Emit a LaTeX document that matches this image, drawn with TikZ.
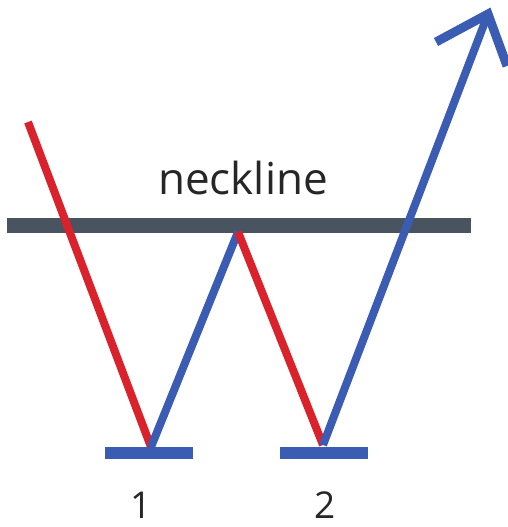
\documentclass[tikz,border=0pt]{standalone}
\usepackage{fontspec}
\setmainfont{Open Sans}
\definecolor{wred}{HTML}{D9222B}
\definecolor{wblue}{HTML}{3B5CB3}
\definecolor{wgray}{HTML}{4A5460}
\begin{document}
\begin{tikzpicture}[x=1pt,y=1pt,
  redseg/.style={wred,line width=8pt},
  blueseg/.style={wblue,line width=8pt},
  bar/.style={wblue,line width=12pt},
  neck/.style={wgray,line width=15pt},
  lbl/.style={font=\fontsize{37}{39}\selectfont,text=black!85,inner sep=0pt},
  nlbl/.style={font=\fontsize{44}{46}\selectfont,text=black!85,inner sep=0pt}]
\useasboundingbox (0,0) rectangle (507,527);
\coordinate (s) at (28,405);
\coordinate (b1) at (151,80);
\coordinate (t) at (238,295);
\coordinate (b2) at (323,82);
\coordinate (tip) at (488,513);
\coordinate (wl) at (436,485);
\coordinate (wr) at (507,461);
\draw[neck] (7,301) -- (471,301);
\draw[redseg] (s) -- (b1);
\draw[blueseg] (b1) -- (t);
\draw[redseg] (t) -- (b2);
\draw[blueseg] (b2) -- (tip);
\draw[blueseg,line width=9pt,line join=miter] (wl) -- (tip) -- (wr);
\draw[bar] (105,74) -- (193,74);
\draw[bar] (280,74) -- (368,74);
\node[nlbl,anchor=base] (nl) at (243,332) {neckline};
\node[lbl,anchor=base] (n1) at (141,9) {1};
\node[lbl,anchor=base] (n2) at (325,9) {2};
\end{tikzpicture}
\end{document}
